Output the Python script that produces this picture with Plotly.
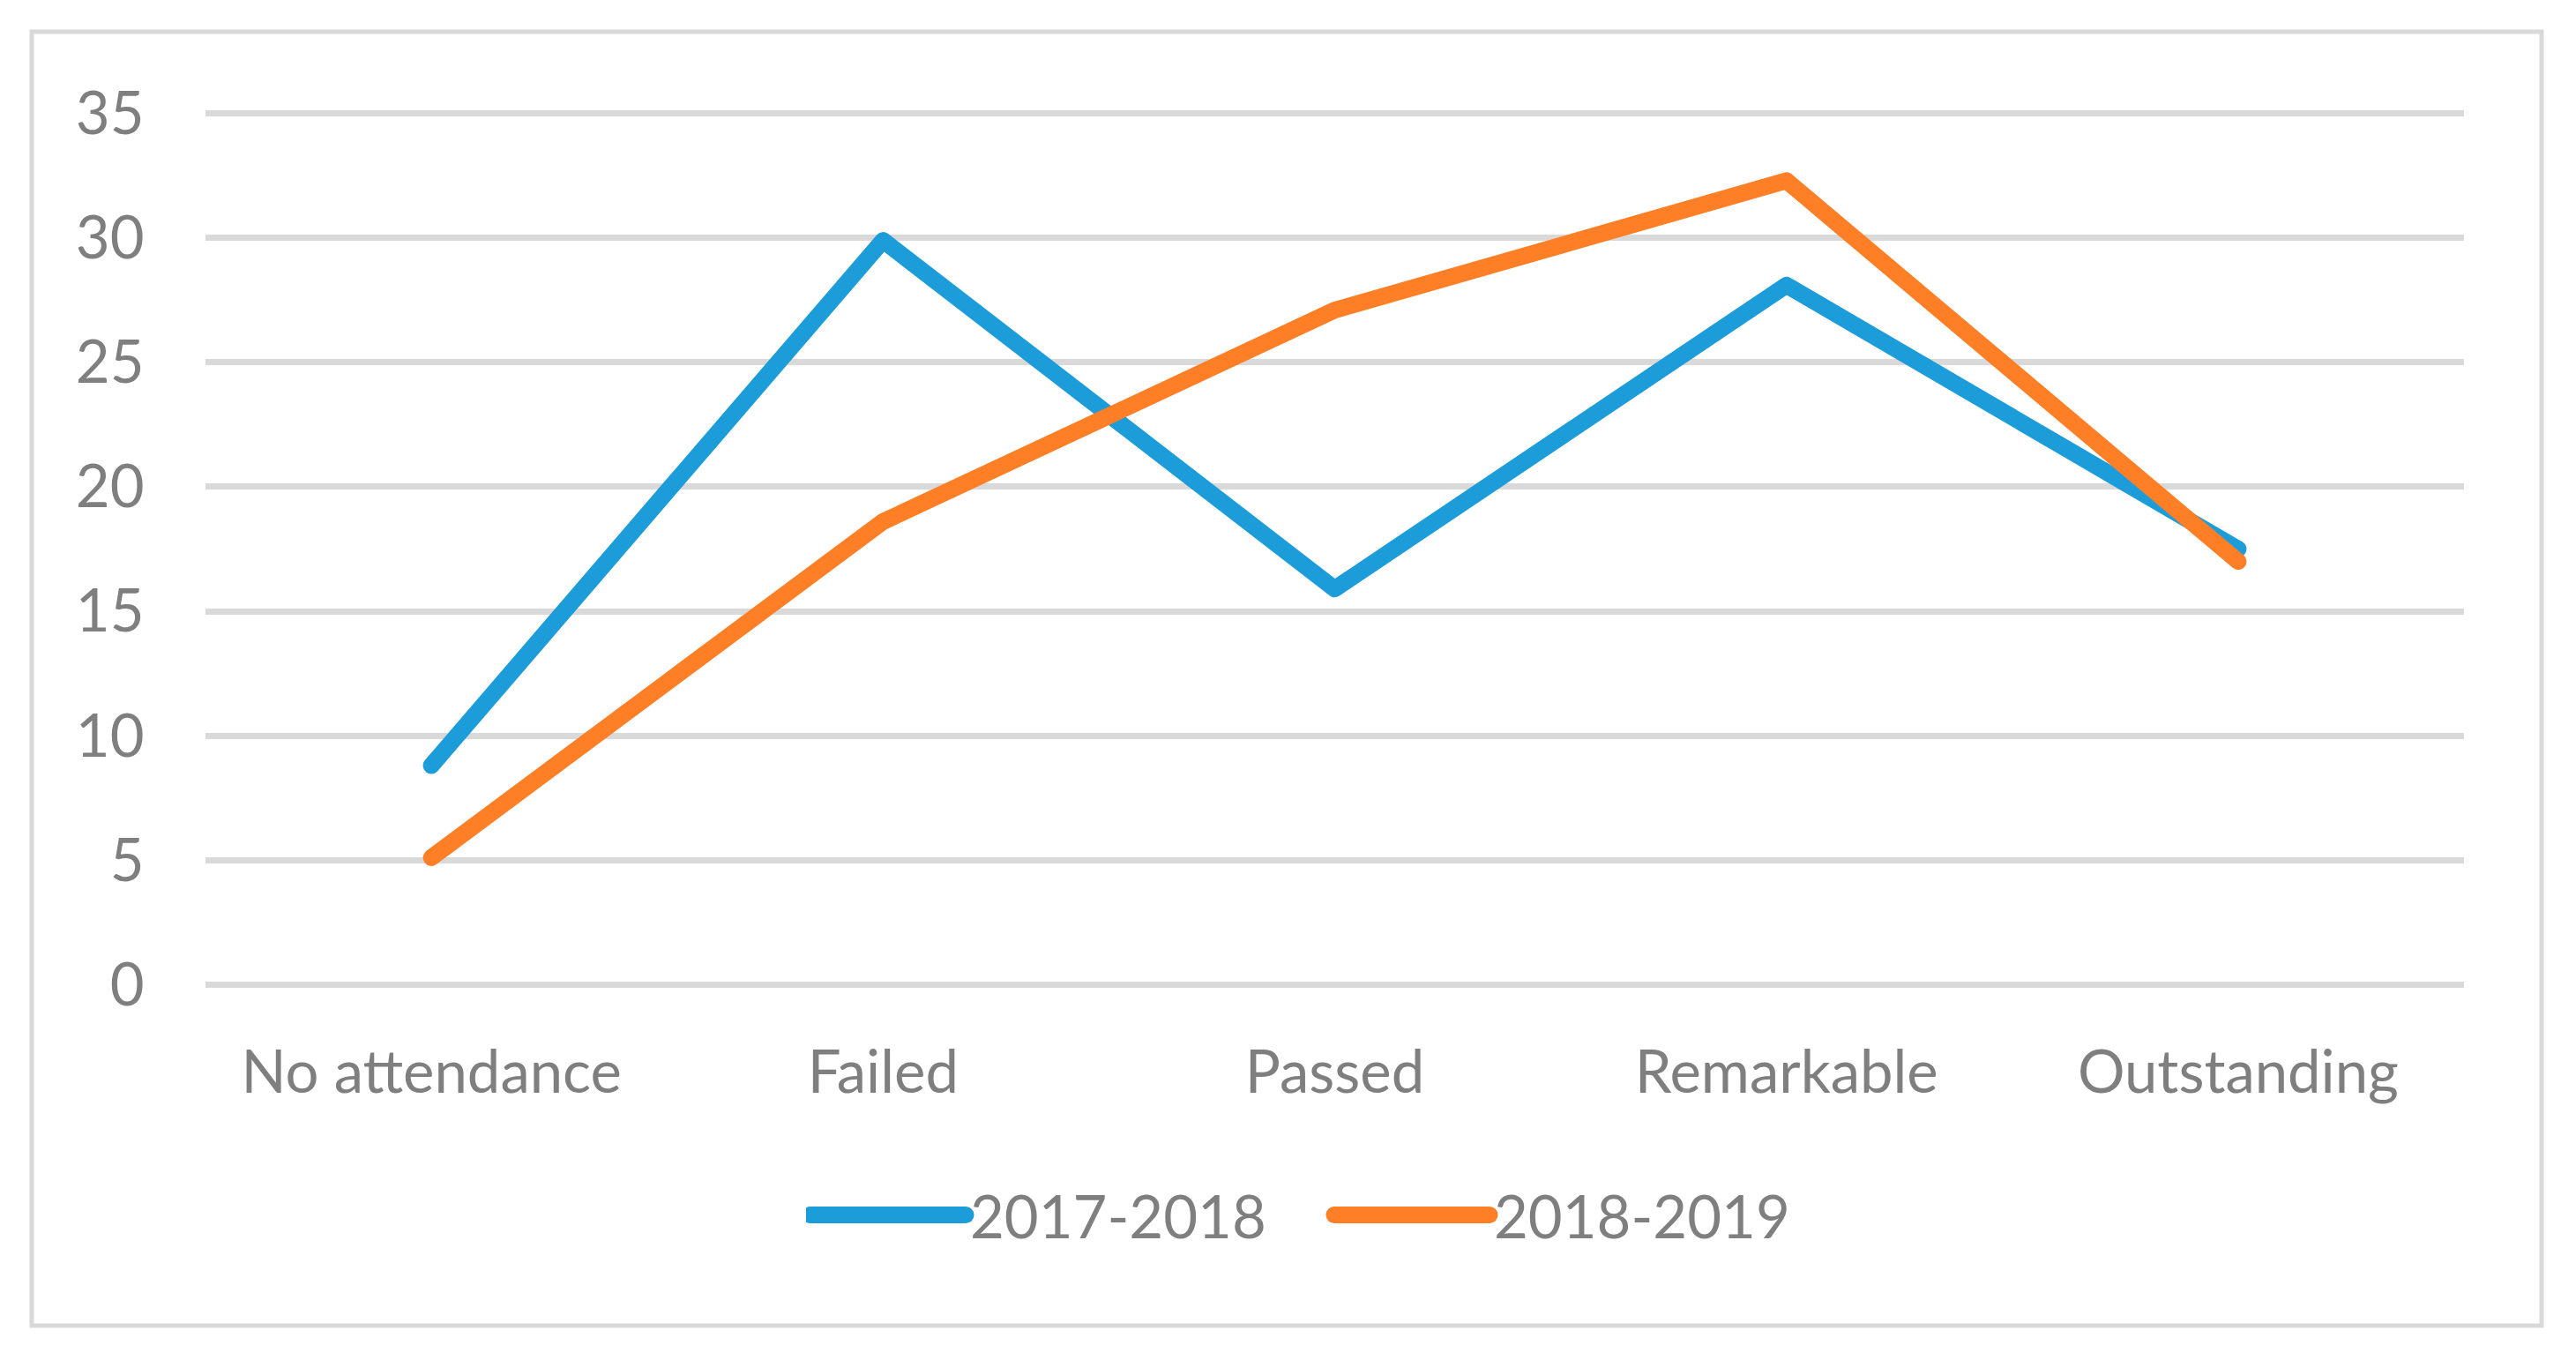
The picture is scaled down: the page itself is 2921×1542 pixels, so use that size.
import plotly.graph_objects as go

categories = ["No attendance", "Failed", "Passed", "Remarkable", "Outstanding"]
series_2017_2018 = [8.8, 29.9, 15.9, 28.1, 17.5]
series_2018_2019 = [5.1, 18.6, 27.1, 32.3, 17.0]
series_names = ["2017-2018", "2018-2019"]
y_ticks = [0, 5, 10, 15, 20, 25, 30, 35]

W, H = 2921, 1542
L, R, T, B = 233, 127, 127, 424

FONT = "Lato"
TXT = "#7f7f7f"
GRID = "#d9d9d9"

fig = go.Figure()
fig.add_trace(go.Scatter(x=categories, y=series_2017_2018, name=series_names[0],
                         mode="lines", line=dict(color="#1c9cd8", width=19)))
fig.add_trace(go.Scatter(x=categories, y=series_2018_2019, name=series_names[1],
                         mode="lines", line=dict(color="#ff7f27", width=19)))

pw = W - L - R
ph = H - T - B
def px_x(p):
    return (p - L) / pw
def px_y(p):
    return (H - B - p) / ph
fig.add_shape(type="rect", xref="paper", yref="paper",
              x0=px_x(36), x1=px_x(2882), y0=px_y(36), y1=px_y(1503),
              line=dict(color=GRID, width=5), fillcolor="rgba(0,0,0,0)", layer="below")

eps = 0.06
fig.update_layout(
    width=W, height=H,
    margin=dict(l=L, r=R, t=T, b=B),
    paper_bgcolor="white", plot_bgcolor="white",
    font=dict(family=FONT, color=TXT, size=67),
    showlegend=True,
    legend=dict(orientation="h", xref="container", x=(918 - 4) / W, xanchor="left",
                yref="container", y=(H - 1378) / H, yanchor="middle",
                font=dict(family=FONT, color=TXT, size=67),
                itemwidth=176, entrywidth=403, entrywidthmode="pixels",
                bgcolor="rgba(0,0,0,0)"),
    xaxis=dict(type="category", range=[-0.5, 4.5], showgrid=False, zeroline=False,
               showline=False, ticks="outside", ticklen=40, tickcolor="rgba(0,0,0,0)",
               tickfont=dict(family=FONT, color=TXT, size=67)),
    yaxis=dict(range=[-eps, 35 + eps], tickvals=y_ticks, showgrid=True, gridcolor=GRID,
               gridwidth=7, zeroline=False, showline=False, ticks="outside", ticklen=55,
               tickcolor="rgba(0,0,0,0)",
               tickfont=dict(family=FONT, color=TXT, size=67)),
)

post = """
document.body.style.margin='0';
document.querySelectorAll('.scatterlayer path.js-line').forEach(function(p){p.style.strokeLinecap='round';p.style.strokeLinejoin='round';});
document.querySelectorAll('.legend path.js-line').forEach(function(p){p.style.strokeWidth='19px';p.style.strokeLinecap='round';});
"""
fig.write_html("out.html", post_script=post, config={"displayModeBar": False})
